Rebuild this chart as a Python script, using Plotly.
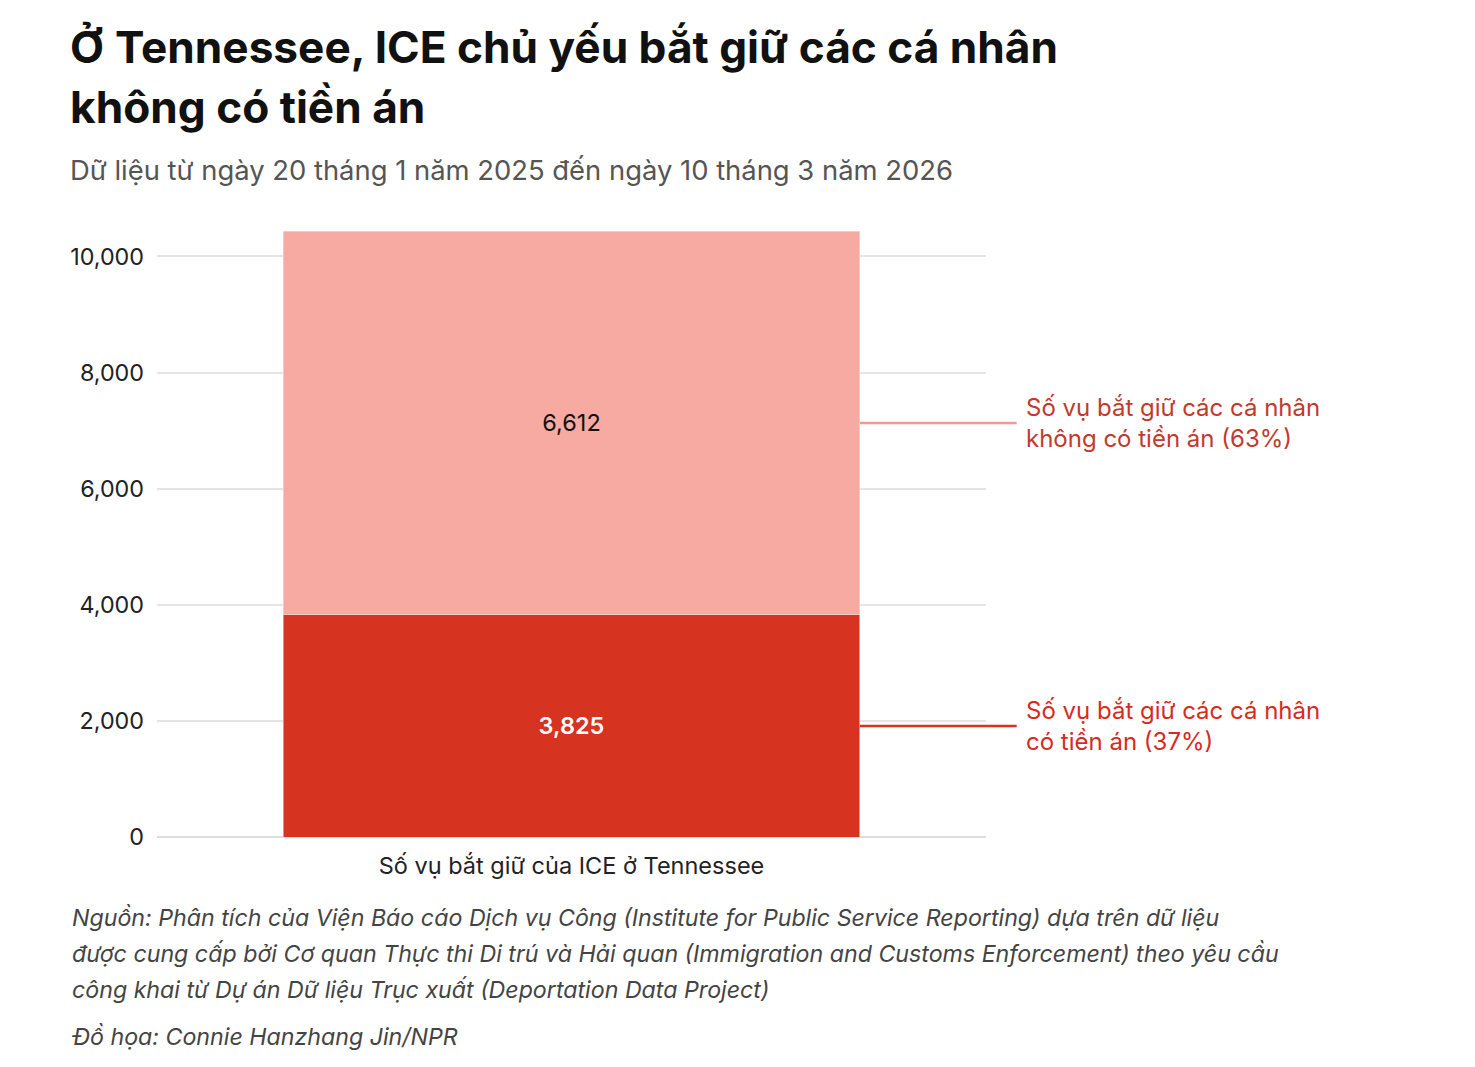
import plotly.graph_objects as go

categories = ["Số vụ bắt giữ của ICE ở Tennessee"]
with_record = [3825]
without_record = [6612]
series_names = ["Số vụ bắt giữ các cá nhân<br>có tiền án (37%)",
                "Số vụ bắt giữ các cá nhân<br>không có tiền án (63%)"]
y_ticks = [0, 2000, 4000, 6000, 8000, 10000]

RED = "#D63321"
PINK = "#F7AAA1"
FONT = "Inter"
BW = 0.696

fig = go.Figure()
fig.add_trace(go.Bar(
    x=categories, y=with_record, marker_color=RED, width=BW,
    text=[f"{v:,}" for v in with_record], textposition="inside",
    insidetextanchor="middle",
    textfont=dict(family=FONT, size=23.5, color="white", weight=600),
    hoverinfo="skip", showlegend=False))
fig.add_trace(go.Bar(
    x=categories, y=without_record, marker_color=PINK, width=BW,
    text=[f"{v:,}" for v in without_record], textposition="inside",
    insidetextanchor="middle",
    textfont=dict(family=FONT, size=23.5, color="#111111"),
    hoverinfo="skip", showlegend=False))

total = with_record[0] + without_record[0]
mid_red = with_record[0] / 2
mid_pink = with_record[0] + without_record[0] / 2

fig.update_layout(
    barmode="stack",
    width=1475, height=1067,
    margin=dict(l=157, r=489, t=231, b=230),
    paper_bgcolor="white", plot_bgcolor="white",
    font=dict(family=FONT, color="#222222"),
    xaxis=dict(range=[-0.5, 0.5], showgrid=False, showline=False, zeroline=False,
               ticks="", ticklabelstandoff=12,
               tickfont=dict(family=FONT, size=23.5, color="#222222"),
               fixedrange=True),
    yaxis=dict(range=[0, total], tickvals=y_ticks,
               ticktext=[f"{v:,}" for v in y_ticks],
               showgrid=True, gridcolor="#e4e4e4", gridwidth=1.5,
               zeroline=True, zerolinecolor="#dddddd", zerolinewidth=1.5,
               ticks="", ticklabelstandoff=12,
               tickfont=dict(family=FONT, size=23.3, color="#222222"),
               fixedrange=True),
)

# connector lines and labels
for yv, col, tcol, name in [(mid_pink, "#F19A92", "#C2392D", series_names[1]),
                             (mid_red, RED, "#D62B1F", series_names[0])]:
    fig.add_shape(type="line", xref="paper", yref="y",
                  x0=0.5 + BW / 2, x1=1.037, y0=yv, y1=yv,
                  line=dict(color=col, width=2.5))
    fig.add_annotation(xref="paper", yref="y", x=1.046, y=yv,
                       xanchor="left", yanchor="middle", align="left",
                       text=name, showarrow=False,
                       font=dict(family=FONT, size=24, color=tcol))

# titles
title_lines = ["Ở Tennessee, ICE chủ yếu bắt giữ các cá nhân", "không có tiền án"]
for i, t in enumerate(title_lines):
    fig.add_annotation(xref="paper", yref="paper", x=-0.1073,
                       y=1 + (231 - (47 + 60 * i)) / 606,
                       xanchor="left", yanchor="middle",
                       text=f"<b>{t}</b>", showarrow=False,
                       font=dict(family=FONT, size=44.2, color="#111111"))

fig.add_annotation(xref="paper", yref="paper", x=-0.1073,
                   y=1 + (231 - 170) / 606, xanchor="left", yanchor="middle",
                   text="Dữ liệu từ ngày 20 tháng 1 năm 2025 đến ngày 10 tháng 3 năm 2026",
                   showarrow=False, font=dict(family=FONT, size=27.4, color="#555555"))

source_lines = [
    "Nguồn: Phân tích của Viện Báo cáo Dịch vụ Công (Institute for Public Service Reporting) dựa trên dữ liệu",
    "được cung cấp bởi Cơ quan Thực thi Di trú và Hải quan (Immigration and Customs Enforcement) theo yêu cầu",
    "công khai từ Dự án Dữ liệu Trục xuất (Deportation Data Project)",
]
for i, t in enumerate(source_lines):
    fig.add_annotation(xref="paper", yref="paper", x=-0.1049,
                       y=-(918 + 36 * i - 837) / 606, xanchor="left", yanchor="middle",
                       text=f"<i>{t}</i>", showarrow=False,
                       font=dict(family=FONT, size=23.2, color="#444444"))
fig.add_annotation(xref="paper", yref="paper", x=-0.1049,
                   y=-(1037 - 837) / 606, xanchor="left", yanchor="middle",
                   text="<i>Đồ họa: Connie Hanzhang Jin/NPR</i>", showarrow=False,
                   font=dict(family=FONT, size=23.2, color="#444444"))

fig.write_html("out.html")
